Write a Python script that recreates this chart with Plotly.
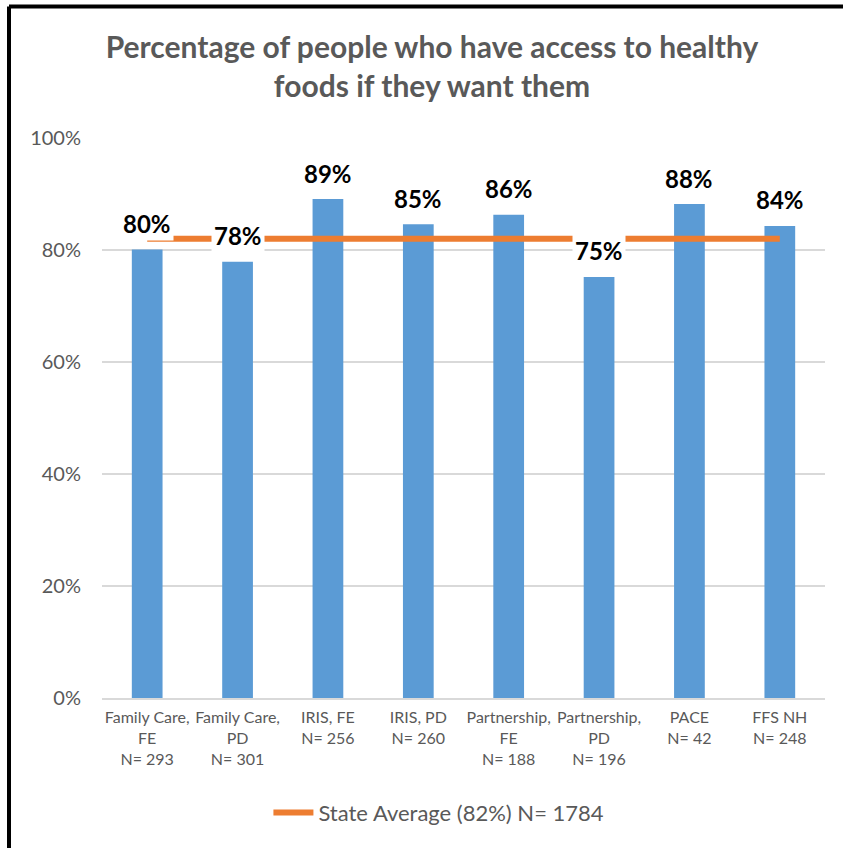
import plotly.graph_objects as go

categories = ["Family Care,<br>FE<br>N= 293", "Family Care,<br>PD<br>N= 301", "IRIS, FE<br>N= 256",
              "IRIS, PD<br>N= 260", "Partnership,<br>FE<br>N= 188", "Partnership,<br>PD<br>N= 196",
              "PACE<br>N= 42", "FFS NH<br>N= 248"]
values = [80.1, 77.9, 89.1, 84.6, 86.3, 75.2, 88.2, 84.3]
value_labels = ["80%", "78%", "89%", "85%", "86%", "75%", "88%", "84%"]
state_avg = [82] * len(categories)
state_avg_name = "State Average (82%) N= 1784"
y_ticks = [0, 20, 40, 60, 80, 100]
y_tick_labels = ["0%", "20%", "40%", "60%", "80%", "100%"]

GREY = "#595959"
FONT = "Lato"

fig = go.Figure()
fig.add_trace(go.Bar(x=categories, y=values, marker=dict(color="#5B9BD5", line=dict(width=0)),
                     showlegend=False, hoverinfo="skip"))
fig.add_trace(go.Scatter(x=categories, y=state_avg, mode="lines", name=state_avg_name,
                         line=dict(color="#ED7D31", width=6)))

for c, v, t in zip(categories, values, value_labels):
    fig.add_annotation(x=c, y=v, text="<b>%s</b>" % t, showarrow=False, yanchor="middle",
                       yshift=26, bgcolor="white", borderpad=2,
                       font=dict(family=FONT, size=24, color="#000000"))

L, R, T, B = 102, 18, 138, 150
W, H = 843, 848
pw, ph = W - L - R, H - T - B
# frame lines (left and top) in paper coords
xl = (9 - L) / pw
yt = (H - B - 6.5) / ph
fig.add_shape(type="line", xref="paper", yref="paper", x0=xl, x1=xl, y0=yt, y1=-0.3,
              line=dict(color="black", width=4), layer="above")
fig.add_shape(type="line", xref="paper", yref="paper", x0=xl, x1=1.1, y0=yt, y1=yt,
              line=dict(color="black", width=4), layer="above")

fig.update_layout(
    width=W, height=H,
    margin=dict(l=L, r=R, t=T, b=B),
    paper_bgcolor="white", plot_bgcolor="white",
    bargap=0.66,
    title=dict(text="<b>Percentage of people who have access to healthy<br>foods if they want them</b>",
               x=432 / W, xanchor="center", y=1 - 58 / H, yanchor="middle",
               font=dict(family=FONT, size=30, color=GREY)),
    font=dict(family=FONT, color=GREY),
    legend=dict(orientation="h", x=0.466, xanchor="center", y=-0.205, yanchor="middle",
                font=dict(family=FONT, size=22, color=GREY), itemwidth=40),
    xaxis=dict(showgrid=False, showline=True, linecolor="#D9D9D9", linewidth=1.5,
               tickfont=dict(family=FONT, size=16, color=GREY), ticks="", ticklabelstandoff=4),
    yaxis=dict(range=[0, 100], tickvals=y_ticks, ticktext=y_tick_labels, showgrid=True,
               gridcolor="#D9D9D9", gridwidth=1.5, zeroline=False, showline=False,
               tickfont=dict(family=FONT, size=20, color=GREY), ticklabelstandoff=20),
)

fig.write_html("out.html", config={"displayModeBar": False},
               post_script="document.body.style.margin='0';")
